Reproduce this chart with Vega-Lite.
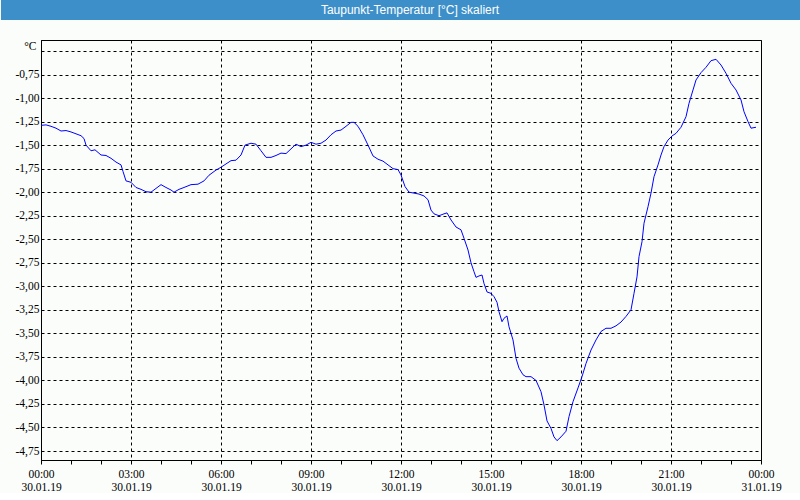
{
  "$schema": "https://vega.github.io/schema/vega-lite/v6.json",
  "background": "#fbfdfb",
  "padding": 0,
  "columns": 1,
  "bounds": "flush",
  "center": true,
  "spacing": 20,
  "config": {
    "font": "Liberation Sans Narrow",
    "axis": {"labelFont": "Liberation Sans Narrow", "titleFont": "Liberation Sans Narrow"},
    "axisY": {"labelOverlap": false}
  },
  "datasets": {
    "kopf": [{"label": "Taupunkt-Temperatur [°C] skaliert"}],
    "taupunkt": [
      {"t": "2019-01-30T00:00", "v": -1.29},
      {"t": "2019-01-30T00:10", "v": -1.285},
      {"t": "2019-01-30T00:20", "v": -1.30},
      {"t": "2019-01-30T00:30", "v": -1.32},
      {"t": "2019-01-30T00:40", "v": -1.35},
      {"t": "2019-01-30T00:50", "v": -1.345},
      {"t": "2019-01-30T01:00", "v": -1.36},
      {"t": "2019-01-30T01:10", "v": -1.38},
      {"t": "2019-01-30T01:20", "v": -1.40},
      {"t": "2019-01-30T01:26", "v": -1.43},
      {"t": "2019-01-30T01:30", "v": -1.50},
      {"t": "2019-01-30T01:40", "v": -1.56},
      {"t": "2019-01-30T01:48", "v": -1.55},
      {"t": "2019-01-30T02:00", "v": -1.605},
      {"t": "2019-01-30T02:10", "v": -1.61},
      {"t": "2019-01-30T02:20", "v": -1.64},
      {"t": "2019-01-30T02:30", "v": -1.68},
      {"t": "2019-01-30T02:40", "v": -1.71},
      {"t": "2019-01-30T02:44", "v": -1.78},
      {"t": "2019-01-30T02:50", "v": -1.88},
      {"t": "2019-01-30T03:00", "v": -1.895},
      {"t": "2019-01-30T03:10", "v": -1.95},
      {"t": "2019-01-30T03:20", "v": -1.97},
      {"t": "2019-01-30T03:30", "v": -1.995},
      {"t": "2019-01-30T03:40", "v": -2.0},
      {"t": "2019-01-30T03:50", "v": -1.96},
      {"t": "2019-01-30T04:00", "v": -1.92},
      {"t": "2019-01-30T04:10", "v": -1.95},
      {"t": "2019-01-30T04:20", "v": -1.977},
      {"t": "2019-01-30T04:26", "v": -2.0},
      {"t": "2019-01-30T04:36", "v": -1.97},
      {"t": "2019-01-30T04:46", "v": -1.95},
      {"t": "2019-01-30T05:00", "v": -1.92},
      {"t": "2019-01-30T05:14", "v": -1.915},
      {"t": "2019-01-30T05:26", "v": -1.88},
      {"t": "2019-01-30T05:36", "v": -1.82},
      {"t": "2019-01-30T05:50", "v": -1.765},
      {"t": "2019-01-30T06:00", "v": -1.735},
      {"t": "2019-01-30T06:10", "v": -1.70},
      {"t": "2019-01-30T06:20", "v": -1.665},
      {"t": "2019-01-30T06:30", "v": -1.66},
      {"t": "2019-01-30T06:40", "v": -1.605},
      {"t": "2019-01-30T06:48", "v": -1.50},
      {"t": "2019-01-30T07:00", "v": -1.48},
      {"t": "2019-01-30T07:10", "v": -1.49},
      {"t": "2019-01-30T07:20", "v": -1.56},
      {"t": "2019-01-30T07:30", "v": -1.63},
      {"t": "2019-01-30T07:40", "v": -1.63},
      {"t": "2019-01-30T07:50", "v": -1.61},
      {"t": "2019-01-30T08:00", "v": -1.585},
      {"t": "2019-01-30T08:10", "v": -1.59},
      {"t": "2019-01-30T08:20", "v": -1.54},
      {"t": "2019-01-30T08:30", "v": -1.49},
      {"t": "2019-01-30T08:40", "v": -1.516},
      {"t": "2019-01-30T08:50", "v": -1.50},
      {"t": "2019-01-30T09:00", "v": -1.47},
      {"t": "2019-01-30T09:10", "v": -1.49},
      {"t": "2019-01-30T09:20", "v": -1.48},
      {"t": "2019-01-30T09:30", "v": -1.446},
      {"t": "2019-01-30T09:40", "v": -1.39},
      {"t": "2019-01-30T09:50", "v": -1.35},
      {"t": "2019-01-30T10:00", "v": -1.34},
      {"t": "2019-01-30T10:10", "v": -1.30},
      {"t": "2019-01-30T10:20", "v": -1.258},
      {"t": "2019-01-30T10:26", "v": -1.258},
      {"t": "2019-01-30T10:34", "v": -1.30},
      {"t": "2019-01-30T10:44", "v": -1.39},
      {"t": "2019-01-30T10:54", "v": -1.50},
      {"t": "2019-01-30T11:04", "v": -1.615},
      {"t": "2019-01-30T11:14", "v": -1.65},
      {"t": "2019-01-30T11:24", "v": -1.67},
      {"t": "2019-01-30T11:34", "v": -1.71},
      {"t": "2019-01-30T11:44", "v": -1.75},
      {"t": "2019-01-30T11:54", "v": -1.76},
      {"t": "2019-01-30T12:00", "v": -1.817},
      {"t": "2019-01-30T12:08", "v": -1.94},
      {"t": "2019-01-30T12:16", "v": -2.0},
      {"t": "2019-01-30T12:26", "v": -2.01},
      {"t": "2019-01-30T12:36", "v": -2.02},
      {"t": "2019-01-30T12:46", "v": -2.04},
      {"t": "2019-01-30T12:54", "v": -2.08},
      {"t": "2019-01-30T13:00", "v": -2.19},
      {"t": "2019-01-30T13:06", "v": -2.23},
      {"t": "2019-01-30T13:16", "v": -2.25},
      {"t": "2019-01-30T13:26", "v": -2.23},
      {"t": "2019-01-30T13:32", "v": -2.22},
      {"t": "2019-01-30T13:40", "v": -2.295},
      {"t": "2019-01-30T13:50", "v": -2.37},
      {"t": "2019-01-30T14:00", "v": -2.40},
      {"t": "2019-01-30T14:06", "v": -2.49},
      {"t": "2019-01-30T14:14", "v": -2.614},
      {"t": "2019-01-30T14:20", "v": -2.75},
      {"t": "2019-01-30T14:26", "v": -2.845},
      {"t": "2019-01-30T14:30", "v": -2.905},
      {"t": "2019-01-30T14:36", "v": -2.89},
      {"t": "2019-01-30T14:42", "v": -2.88},
      {"t": "2019-01-30T14:46", "v": -2.97},
      {"t": "2019-01-30T14:52", "v": -3.06},
      {"t": "2019-01-30T15:00", "v": -3.075},
      {"t": "2019-01-30T15:06", "v": -3.11},
      {"t": "2019-01-30T15:12", "v": -3.17},
      {"t": "2019-01-30T15:16", "v": -3.27},
      {"t": "2019-01-30T15:22", "v": -3.376},
      {"t": "2019-01-30T15:26", "v": -3.34},
      {"t": "2019-01-30T15:32", "v": -3.315},
      {"t": "2019-01-30T15:36", "v": -3.43},
      {"t": "2019-01-30T15:44", "v": -3.57},
      {"t": "2019-01-30T15:50", "v": -3.765},
      {"t": "2019-01-30T15:56", "v": -3.87},
      {"t": "2019-01-30T16:04", "v": -3.94},
      {"t": "2019-01-30T16:10", "v": -3.96},
      {"t": "2019-01-30T16:20", "v": -3.96},
      {"t": "2019-01-30T16:30", "v": -4.00},
      {"t": "2019-01-30T16:40", "v": -4.12},
      {"t": "2019-01-30T16:46", "v": -4.26},
      {"t": "2019-01-30T16:52", "v": -4.43},
      {"t": "2019-01-30T17:00", "v": -4.51},
      {"t": "2019-01-30T17:06", "v": -4.60},
      {"t": "2019-01-30T17:12", "v": -4.64},
      {"t": "2019-01-30T17:20", "v": -4.60},
      {"t": "2019-01-30T17:30", "v": -4.54},
      {"t": "2019-01-30T17:36", "v": -4.385},
      {"t": "2019-01-30T17:44", "v": -4.226},
      {"t": "2019-01-30T17:54", "v": -4.08},
      {"t": "2019-01-30T18:02", "v": -3.96},
      {"t": "2019-01-30T18:10", "v": -3.82},
      {"t": "2019-01-30T18:20", "v": -3.677},
      {"t": "2019-01-30T18:30", "v": -3.57},
      {"t": "2019-01-30T18:40", "v": -3.48},
      {"t": "2019-01-30T18:50", "v": -3.446},
      {"t": "2019-01-30T19:00", "v": -3.446},
      {"t": "2019-01-30T19:10", "v": -3.42},
      {"t": "2019-01-30T19:20", "v": -3.38},
      {"t": "2019-01-30T19:30", "v": -3.32},
      {"t": "2019-01-30T19:40", "v": -3.25},
      {"t": "2019-01-30T19:46", "v": -3.075},
      {"t": "2019-01-30T19:52", "v": -2.90},
      {"t": "2019-01-30T19:56", "v": -2.685},
      {"t": "2019-01-30T20:02", "v": -2.526},
      {"t": "2019-01-30T20:06", "v": -2.33},
      {"t": "2019-01-30T20:14", "v": -2.154},
      {"t": "2019-01-30T20:20", "v": -2.01},
      {"t": "2019-01-30T20:26", "v": -1.835},
      {"t": "2019-01-30T20:34", "v": -1.71},
      {"t": "2019-01-30T20:40", "v": -1.605},
      {"t": "2019-01-30T20:46", "v": -1.516},
      {"t": "2019-01-30T20:54", "v": -1.446},
      {"t": "2019-01-30T21:02", "v": -1.403},
      {"t": "2019-01-30T21:10", "v": -1.375},
      {"t": "2019-01-30T21:20", "v": -1.31},
      {"t": "2019-01-30T21:30", "v": -1.198},
      {"t": "2019-01-30T21:36", "v": -1.056},
      {"t": "2019-01-30T21:44", "v": -0.914},
      {"t": "2019-01-30T21:50", "v": -0.808},
      {"t": "2019-01-30T22:00", "v": -0.73},
      {"t": "2019-01-30T22:10", "v": -0.673},
      {"t": "2019-01-30T22:20", "v": -0.603},
      {"t": "2019-01-30T22:30", "v": -0.588},
      {"t": "2019-01-30T22:40", "v": -0.649},
      {"t": "2019-01-30T22:50", "v": -0.737},
      {"t": "2019-01-30T23:00", "v": -0.843},
      {"t": "2019-01-30T23:10", "v": -0.914},
      {"t": "2019-01-30T23:20", "v": -1.02},
      {"t": "2019-01-30T23:26", "v": -1.145},
      {"t": "2019-01-30T23:34", "v": -1.25},
      {"t": "2019-01-30T23:40", "v": -1.32},
      {"t": "2019-01-30T23:50", "v": -1.31}
    ]
  },
  "concat": [
    {
      "width": 800,
      "height": 20,
      "view": {"fill": "#3d8fc9", "stroke": null},
      "data": {"name": "kopf"},
      "mark": {"type": "text", "color": "white", "font": "Liberation Sans", "fontSize": 12, "dx": 9},
      "encoding": {"text": {"field": "label", "type": "nominal"}}
    },
    {
      "width": 720,
      "height": 420,
      "view": {"fill": "#fbfdfb", "stroke": "black", "strokeWidth": 1},
      "data": {"name": "taupunkt"},
      "resolve": {"axis": {"x": "independent"}},
      "encoding": {
        "y": {
          "field": "v",
          "type": "quantitative",
          "scale": {"domain": [-4.8455, -0.3831], "nice": false, "zero": false},
          "axis": {
            "title": "°C",
            "titleAngle": 0,
            "titleX": -5,
            "titleY": 6,
            "titleAlign": "right",
            "titleBaseline": "middle",
            "titleFontWeight": "normal",
            "titleFontSize": 11.5,
            "titleColor": "black",
            "values": [-4.75, -4.5, -4.25, -4.0, -3.75, -3.5, -3.25, -3.0, -2.75, -2.5, -2.25, -2.0, -1.75, -1.5, -1.25, -1.0, -0.75, -0.5],
            "labelExpr": "datum.value > -0.6 ? '' : replace(replace(format(datum.value, '.2f'), '.', ','), '\u2212', '-')",
            "labelOverlap": false,
            "labelFontSize": 11.5,
            "labelColor": "black",
            "labelPadding": 2,
            "ticks": false,
            "domainColor": "black",
            "minExtent": 40,
            "maxExtent": 40,
            "grid": true,
            "gridColor": "black",
            "gridDash": [3, 3]
          }
        }
      },
      "layer": [
        {
          "mark": {"type": "line", "color": "#0000ff", "strokeWidth": 1},
          "encoding": {
            "x": {
              "field": "t",
              "type": "temporal",
              "scale": {"domain": [{"year": 2019, "month": 1, "date": 30, "hours": 0}, {"year": 2019, "month": 1, "date": 31, "hours": 0}], "nice": false},
              "axis": {
                "title": null,
                "orient": "bottom",
                "values": [
                  {"year": 2019, "month": 1, "date": 30, "hours": 0},
                  {"year": 2019, "month": 1, "date": 30, "hours": 3},
                  {"year": 2019, "month": 1, "date": 30, "hours": 6},
                  {"year": 2019, "month": 1, "date": 30, "hours": 9},
                  {"year": 2019, "month": 1, "date": 30, "hours": 12},
                  {"year": 2019, "month": 1, "date": 30, "hours": 15},
                  {"year": 2019, "month": 1, "date": 30, "hours": 18},
                  {"year": 2019, "month": 1, "date": 30, "hours": 21},
                  {"year": 2019, "month": 1, "date": 31, "hours": 0}
                ],
                "labelExpr": "[timeFormat(datum.value, '%H:%M'), timeFormat(datum.value, '%d.%m.%y')]",
                "labelOverlap": false,
                "labelFlush": false,
                "labelFontSize": 11.5,
                "labelColor": "black",
                "labelLineHeight": 13,
                "labelPadding": 4,
                "tickSize": 4,
                "tickColor": "black",
                "domainColor": "black",
                "grid": true,
                "gridColor": "black",
                "gridDash": [3, 3]
              }
            }
          }
        },
        {
          "mark": {"type": "line", "color": "#0000ff", "strokeWidth": 1, "opacity": 0},
          "encoding": {
            "x": {
              "field": "t",
              "type": "temporal",
              "axis": {
                "title": null,
                "orient": "bottom",
                "values": [
                  {"year": 2019, "month": 1, "date": 30, "hours": 1},
                  {"year": 2019, "month": 1, "date": 30, "hours": 2},
                  {"year": 2019, "month": 1, "date": 30, "hours": 4},
                  {"year": 2019, "month": 1, "date": 30, "hours": 5},
                  {"year": 2019, "month": 1, "date": 30, "hours": 7},
                  {"year": 2019, "month": 1, "date": 30, "hours": 8},
                  {"year": 2019, "month": 1, "date": 30, "hours": 10},
                  {"year": 2019, "month": 1, "date": 30, "hours": 11},
                  {"year": 2019, "month": 1, "date": 30, "hours": 13},
                  {"year": 2019, "month": 1, "date": 30, "hours": 14},
                  {"year": 2019, "month": 1, "date": 30, "hours": 16},
                  {"year": 2019, "month": 1, "date": 30, "hours": 17},
                  {"year": 2019, "month": 1, "date": 30, "hours": 19},
                  {"year": 2019, "month": 1, "date": 30, "hours": 20},
                  {"year": 2019, "month": 1, "date": 30, "hours": 22},
                  {"year": 2019, "month": 1, "date": 30, "hours": 23}
                ],
                "labels": false,
                "domain": false,
                "grid": false,
                "tickSize": 4,
                "tickColor": "black"
              }
            }
          }
        }
      ]
    }
  ]
}
